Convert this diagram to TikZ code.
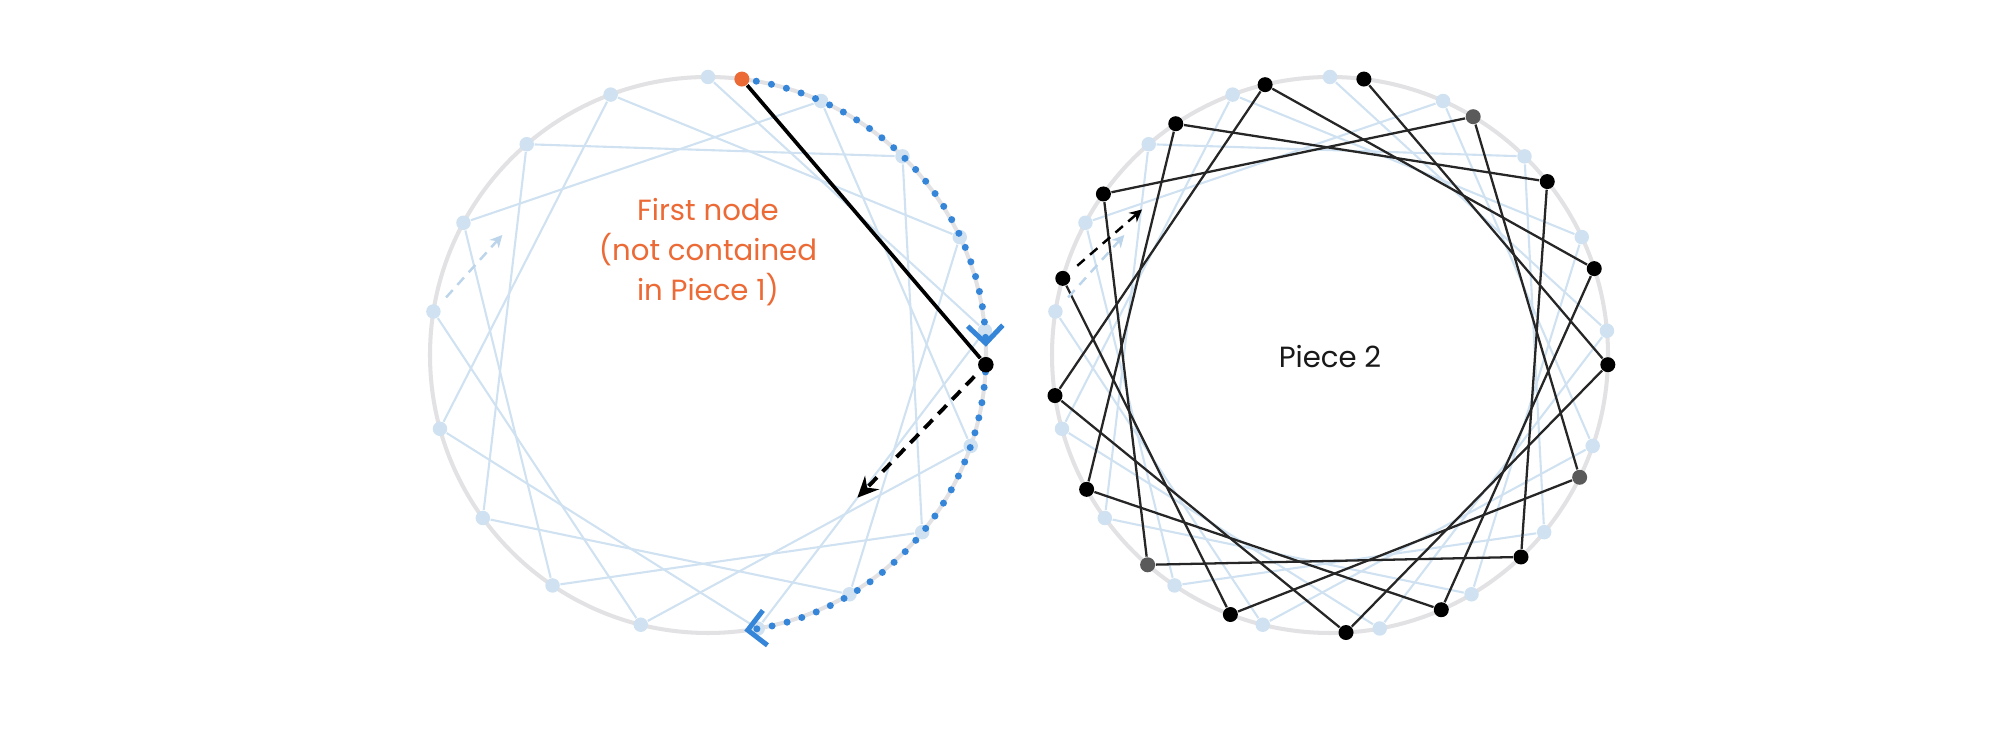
\documentclass[tikz,border=0pt]{standalone}
\usepackage{fontspec}
\setmainfont{Poppins}
\usetikzlibrary{arrows.meta}

\definecolor{ringgray}{HTML}{E2E1E4}
\definecolor{pieceblue}{HTML}{D0E2F1}
\definecolor{closeblue}{HTML}{BCD5EA}
\definecolor{dotblue}{HTML}{3585D8}
\definecolor{firstorange}{HTML}{EC6A35}
\definecolor{endgray}{HTML}{5A5A5A}

\begin{document}
\begin{tikzpicture}[
    ring/.style={draw=ringgray,line width=1.15pt},
    bluenode/.style={circle,fill=pieceblue,inner sep=0pt,minimum size=1.45mm},
    darknode/.style={circle,fill=#1,inner sep=0pt,minimum size=1.5mm},
    darknode/.default=black,
    blueline/.style={draw=pieceblue,line width=0.6pt},
    darkline/.style={draw=black!85,line width=0.65pt},
    dotarc/.style={draw=dotblue,line width=2pt,line cap=round,dash pattern=on 0pt off 4.4pt,-{Straight Barb[length=5pt,width=10pt,line width=1.4pt]}},
    closedash/.style={line width=0.7pt,dash pattern=on 2.8pt off 2pt,-{Stealth[length=3.5pt,width=3.5pt]},shorten <=1.1mm},
    piecetext/.style={font=\fontsize{8.3}{11.3}\selectfont,align=center}
  ]
        \useasboundingbox (0,0) rectangle (20,7.34);
        \coordinate (Lc) at (7.08,3.79);
        \coordinate (Rc) at (13.30,3.79);

        \draw[ring] (Lc) circle (2.78);
        \draw[ring] (Rc) circle (2.78);

        \foreach \a [count=\i from 0] in {90,66,45.6,25.1,5,340.9,320.4,300.6,280.3,256,236,215.9,195.4,171,151.6,130.7,110.5} {
          \node[bluenode] (L\i) at ([shift={(\a:2.78)}]Lc) {};
          \node[bluenode] (R\i) at ([shift={(\a:2.78)}]Rc) {};
        }
        \foreach \j in {0,...,15} {
          \pgfmathtruncatemacro\pa{mod(4*\j,17)}
          \pgfmathtruncatemacro\pb{mod(4*\j+4,17)}
          \draw[blueline] (L\pa) -- (L\pb);
          \draw[blueline] (R\pa) -- (R\pb);
        }

        \foreach \a/\c [count=\i from 0] in {90/black,66/endgray,45.6/black,25.1/black,5/black,340.9/endgray,320.4/black,300.6/black,280.3/black,256/black,236/endgray,215.9/black,195.4/black,171/black,151.6/black,130.7/black,110.5/black} {
          \node[darknode=\c] (Q\i) at ([shift={(\a-7:2.78)}]Rc) {};
        }
        \foreach \j in {0,...,15} {
          \pgfmathtruncatemacro\pa{mod(4*\j,17)}
          \pgfmathtruncatemacro\pb{mod(4*\j+4,17)}
          \draw[darkline] (Q\pa) -- (Q\pb);
        }

        \coordinate (L13end) at ([shift={(48:1.03)}]L13);
        \coordinate (R13end) at ([shift={(48:1.03)}]R13);
        \coordinate (Q13end) at ([shift={(41:1.05)}]Q13);
        \draw[closedash,draw=closeblue] (L13) -- (L13end);
        \draw[closedash,draw=closeblue] (R13) -- (R13end);
        \draw[closedash,draw=black] (Q13) -- (Q13end);

        \draw[dotarc] ([shift={(80:2.78)}]Lc) arc[start angle=80,end angle=1.7,radius=2.78];
        \draw[dotarc] ([shift={(-3.5:2.78)}]Lc) arc[start angle=-3.5,end angle=-82.5,radius=2.78];

        \node[darknode=firstorange] (first) at ([shift={(83:2.78)}]Lc) {};
        \node[darknode,minimum size=1.55mm] (next) at ([shift={(-2:2.78)}]Lc) {};
        \coordinate (nextend) at ([shift={(226:1.85)}]next);
        \draw[line width=1.05pt] (first) -- (next);
        \draw[line width=1.1pt,dash pattern=on 3.4pt off 2.3pt,-{Stealth[length=6pt,width=5.5pt,inset=2pt]},shorten <=0.8mm] (next) -- (nextend);

        \node[piecetext,text=firstorange] (firstnote) at (7.08,4.82) {First node\\(not contained\\in Piece 1)};
        \node[piecetext,text=black!90] (piecetwo) at (13.30,3.77) {Piece 2};
      \end{tikzpicture}
\end{document}
